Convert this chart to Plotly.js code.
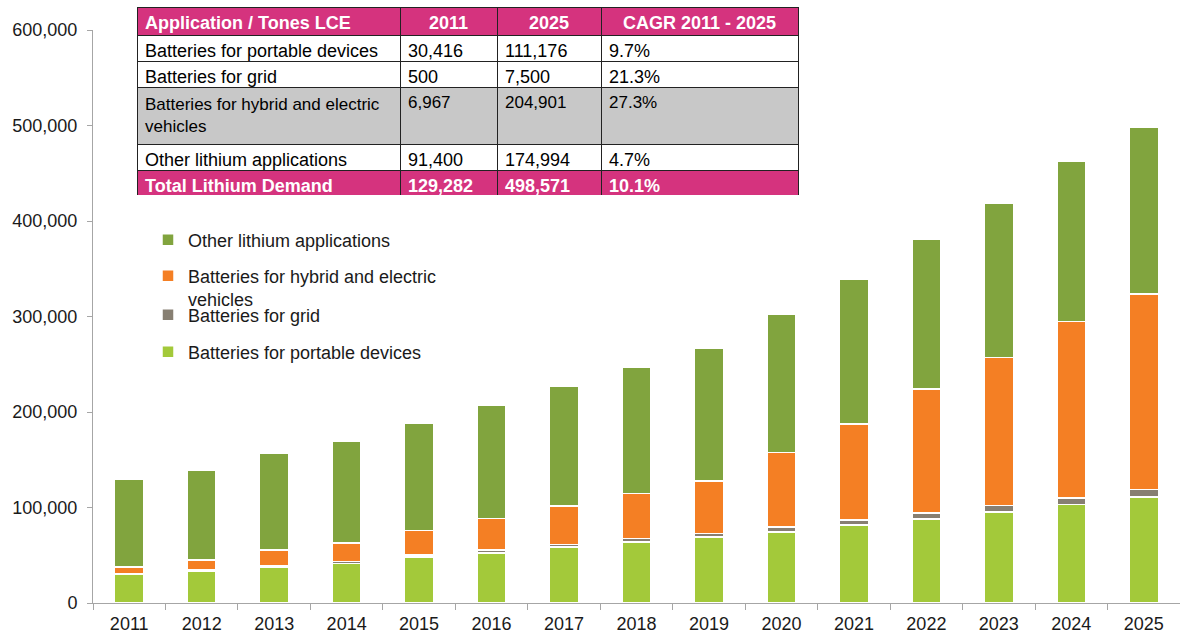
<!DOCTYPE html>
<html>
<head>
<meta charset="utf-8">
<script src="https://cdn.plot.ly/plotly-3.0.1.min.js"></script>
<style>html,body{margin:0;padding:0;background:#fff;}#chart{width:1180px;height:635px;}</style>
</head>
<body>
<div id="chart"></div>
<script>
// ---- data ----
const years = ['2011','2012','2013','2014','2015','2016','2017','2018','2019','2020','2021','2022','2023','2024','2025'];
const portable = [30416, 33400, 37500, 41500, 48000, 52500, 58500, 64000, 69000, 74500, 81500, 88000, 95500, 103000, 111176];
const grid = [500, 1000, 1500, 2000, 2500, 3000, 3000, 3500, 4000, 5000, 5500, 6000, 6500, 7000, 7500];
const ev = [6967, 10500, 16500, 19500, 25500, 33000, 40000, 47000, 55000, 78000, 100500, 130000, 155000, 185000, 204901];
const other = [91400, 94000, 101000, 106000, 112500, 119000, 125500, 132000, 139000, 145000, 151000, 157000, 162000, 168000, 174994];

const seriesNames = ['Batteries for portable devices', 'Batteries for grid', 'Batteries for hybrid and electric<br>vehicles', 'Other lithium applications'];

const tableColumns = ['Application / Tones LCE', '2011', '2025', 'CAGR 2011 - 2025'];
const tableApps = ['Batteries for portable devices', 'Batteries for grid', 'Batteries for hybrid and electric<br>vehicles', 'Other lithium applications', 'Total Lithium Demand'];
const table2011 = [30416, 500, 6967, 91400, 129282];
const table2025 = [111176, 7500, 204901, 174994, 498571];
const tableCagr = ['9.7%', '21.3%', '27.3%', '4.7%', '10.1%'];

// ---- styling ----
const FONT = 'Liberation Sans, Arial, sans-serif';
const PINK = '#D5337E';
const colors = ['#A3C93A', '#877F72', '#F47F24', '#81A43E'];
const W = 1180, H = 635;
const PL = 93, PT = 7, PB = 603; // plot area pixel bounds
const PW = W - PL, PH = PB - PT;

const series = [portable, grid, ev, other];
const legendIds = ['legend4', 'legend3', 'legend2', 'legend'];
const traces = series.map((vals, i) => ({
  type: 'bar',
  x: years,
  y: vals,
  name: seriesNames[i],
  legend: legendIds[i],
  width: 0.4,
  marker: {color: colors[i], line: {color: '#ffffff', width: 1.5}},
  hoverinfo: 'x+y+name'
}));

const last = tableApps.length - 1;
const num = v => v.toLocaleString('en-US');
const rowFill = tableApps.map((_, i) => i === last ? PINK : (i === 2 ? '#C8C8C8' : '#FFFFFF'));
const rowFont = tableApps.map((_, i) => i === last ? '#FFFFFF' : '#000000');
const rowWeight = tableApps.map((_, i) => i === last ? 'bold' : 'normal');
const rowSize = tableApps.map((_, i) => i === 2 ? 17 : 18);

traces.push({
  type: 'table',
  domain: {x: [(137 - PL) / PW, (798 - PL) / PW], y: [(PB - 195) / PH, 1]},
  columnwidth: [263, 97, 104, 197],
  header: {
    values: tableColumns,
    align: ['left', 'center', 'center', 'center'],
    fill: {color: PINK},
    line: {color: '#222', width: 1},
    font: {family: FONT, size: 18, color: '#fff', weight: 'bold'},
    height: 28
  },
  cells: {
    values: [
      tableApps,
      table2011.map(num),
      table2025.map(num),
      tableCagr
    ],
    align: 'left',
    fill: {color: [rowFill, rowFill, rowFill, rowFill]},
    line: {color: '#222', width: 1},
    font: {family: FONT, size: [rowSize, rowSize, rowSize, rowSize], color: [rowFont, rowFont, rowFont, rowFont], weight: [rowWeight, rowWeight, rowWeight, rowWeight]},
    height: 26
  }
});

const legendBase = (yPx, extra) => Object.assign({
  xref: 'paper', yref: 'paper',
  x: (148 - PL) / PW, xanchor: 'left',
  y: (PB - yPx) / PH, yanchor: 'middle',
  bgcolor: 'rgba(0,0,0,0)',
  font: {family: FONT, size: 18, color: '#1a1a1a'}
}, extra || {});

const layout = {
  width: W, height: H,
  margin: {l: PL, r: 0, t: PT, b: H - PB, autoexpand: false},
  paper_bgcolor: '#fff', plot_bgcolor: '#fff',
  barmode: 'stack',
  font: {family: FONT, size: 18, color: '#1a1a1a'},
  showlegend: true,
  legend: legendBase(240),
  legend2: legendBase(287.5, {valign: 'top'}),
  legend3: legendBase(315),
  legend4: legendBase(352),
  xaxis: {
    type: 'category',
    range: [-0.5, 14.5],
    showline: true, linecolor: '#A6A6A6', linewidth: 1,
    ticks: 'outside', tickson: 'boundaries', ticklen: 6, tickcolor: '#A6A6A6',
    ticklabelstandoff: 4,
    showgrid: false, zeroline: false,
    tickfont: {family: FONT, size: 18, color: '#1a1a1a'}
  },
  yaxis: {
    domain: [0, 573 / PH],
    range: [0, 600000],
    dtick: 100000, tickformat: ',',
    showline: true, linecolor: '#A6A6A6', linewidth: 1,
    ticks: 'outside', ticklen: 5, tickcolor: '#A6A6A6',
    ticklabelstandoff: 6,
    showgrid: false, zeroline: false,
    tickfont: {family: FONT, size: 18, color: '#1a1a1a'}
  }
};

Plotly.newPlot('chart', traces, layout, {displayModeBar: false, staticPlot: true});
</script>
</body>
</html>
